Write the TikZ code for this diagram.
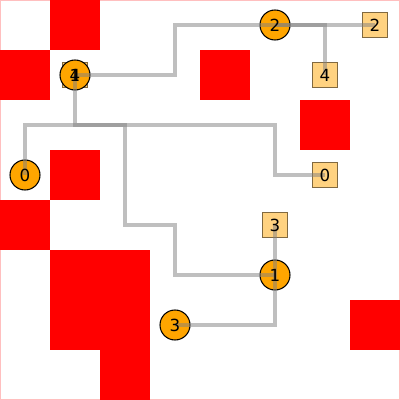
\documentclass[tikz,border=0pt]{standalone}
\usepackage{fontspec}
\setmainfont{DejaVu Sans}
\usetikzlibrary{positioning}

\definecolor{agentfill}{RGB}{255,165,0}
\definecolor{goalfill}{RGB}{255,210,128}
\definecolor{goaldraw}{RGB}{128,105,64}
\definecolor{pathgray}{RGB}{128,128,128}

\tikzset{
  wall/.style = {fill = red, draw = none},
  agent/.style = {shape = circle, fill = agentfill, draw = black, line width = 0.6pt, minimum size = 0.6cm, inner sep = 0pt},
  goal/.style = {shape = rectangle, fill = goalfill, draw = goaldraw, line width = 0.6pt, minimum size = 0.5cm, inner sep = 0pt},
  route/.style = {draw = pathgray, opacity = 0.5, line width = 2pt},
  tag/.style = {font = \fontsize{9.5}{11}\selectfont, inner sep = 0pt}
}

\begin{document}
\begin{tikzpicture}[x = 1cm, y = -1cm]
\useasboundingbox (0,0) rectangle (8,8);
\draw[red!25, line width = 0.8pt] (0,0) rectangle (8,8);
% obstacles
\foreach \c/\r in {1/0, 0/1, 4/1, 6/2, 1/3, 0/4, 1/5, 2/5, 1/6, 2/6, 7/6, 2/7}
  \fill[wall] (\c,\r) rectangle ++(1,1);
% goals
\node[goal] (g0) at (6.5,3.5) {};
\node[goal] (g1) at (1.5,1.5) {};
\node[goal] (g2) at (7.5,0.5) {};
\node[goal] (g3) at (5.5,4.5) {};
\node[goal] (g4) at (6.5,1.5) {};
% agents
\node[agent] (a0) at (0.5,3.5) {};
\node[agent] (a1) at (5.5,5.5) {};
\node[agent] (a2) at (5.5,0.5) {};
\node[agent] (a3) at (3.5,6.5) {};
\node[agent] (a4) at (1.5,1.5) {};
% routes
\draw[route] (a0.center) |- (5.5,2.5) |- (g0.center);
\draw[route] (a1.center) -| (3.5,4.5) -| (2.5,2.5) -| (g1.center);
\draw[route] (a2.center) -- (g2.center);
\draw[route] (a3.center) -| (g3.center);
\draw[route] (a4.center) -| (3.5,0.5) -| (g4.center);
% labels
\foreach \n in {0,...,4} {
  \node[tag] at (g\n) {\n};
  \node[tag] at (a\n) {\n};
}
\end{tikzpicture}
\end{document}
